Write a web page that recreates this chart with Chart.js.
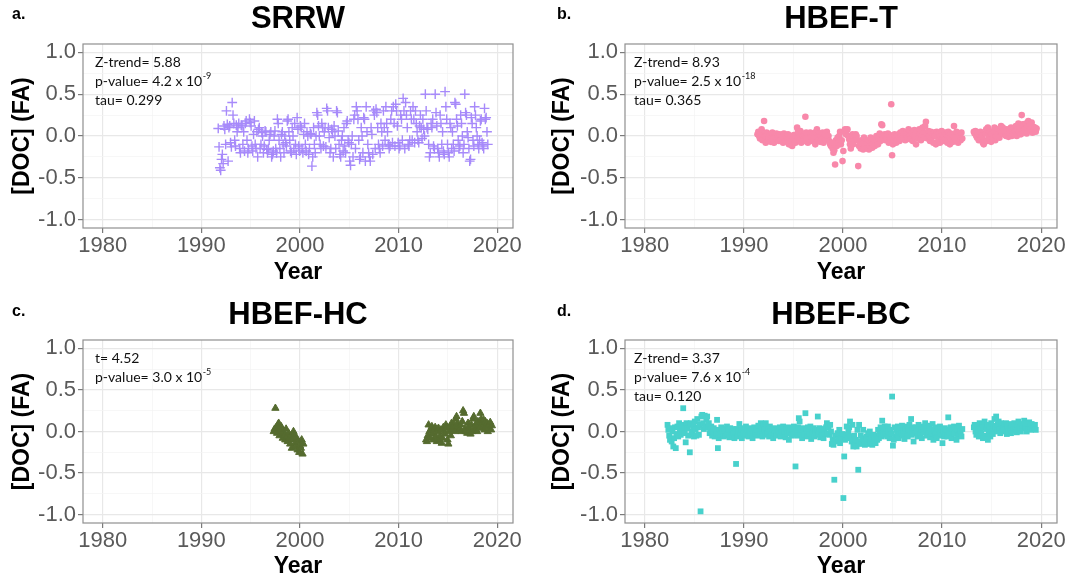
<!DOCTYPE html>
<html>
<head>
<meta charset="utf-8">
<script src="https://cdn.jsdelivr.net/npm/chart.js@4.4.1/dist/chart.umd.min.js"></script>
<style>
    body { margin: 0; background: #fff; }
    #wrap { position: relative; width: 1089px; height: 581px; }
    canvas { position: absolute; }
</style>
</head>
<body>
<div id="wrap">
    <canvas id="srrw" width="545" height="290" style="left:0;top:0"></canvas>
    <canvas id="hbeft" width="544" height="290" style="left:545px;top:0"></canvas>
    <canvas id="hbefhc" width="545" height="291" style="left:0;top:290px"></canvas>
    <canvas id="hbefbc" width="544" height="291" style="left:545px;top:290px"></canvas>
</div>
<script>
// axis ticks (majors get labels, the rest are minor grid lines)
const xTicks = [1980, 1985, 1990, 1995, 2000, 2005, 2010, 2015, 2020];
const xLabels = [1980, 1990, 2000, 2010, 2020];
const yTicks = [-1, -0.75, -0.5, -0.25, 0, 0.25, 0.5, 0.75, 1];
const yLabels = [-1, -0.5, 0, 0.5, 1];

// monthly flow-adjusted DOC values, one row per year
const srrwStart = 1991.67;
const srrwDOC = [
    0.09, -0.13, -0.38, -0.41, -0.28, -0.22, -0.33, 0.12, 0.08, -0.1, 0.3, 0.14,
    -0.3, 0.1, 0.12, -0.08, -0.13, 0.4, 0.25, 0.15, -0.05, -0.12, 0.13, 0.05,
    0.1, 0.15, -0.15, -0.2, 0.13, 0.12, -0.1, 0.05, -0.18, 0.15, 0.18, -0.05,
    -0.2, -0.15, 0.2, 0.16, 0.12, -0.12, -0.18, 0.02, 0.18, -0.1, -0.15, 0.05,
    -0.25, 0.08, 0.1, -0.15, -0.1, 0.04, 0.0, -0.2, -0.12, 0.06, 0.05, -0.16,
    -0.2, -0.15, -0.05, 0.02, 0.05, -0.25, -0.22, -0.18, 0.0, 0.06, -0.15, -0.2,
    0.2, 0.15, -0.05, -0.15, -0.25, 0.02, 0.05, -0.1, -0.2, 0.0, -0.08, -0.12,
    0.18, 0.2, 0.05, -0.05, -0.18, -0.2, 0.1, 0.0, -0.15, 0.15, -0.1, -0.22,
    0.22, 0.08, -0.12, -0.18, 0.12, 0.1, -0.15, -0.2, 0.02, 0.15, -0.1, -0.18,
    0.05, 0.0, -0.22, -0.15, 0.03, 0.02, -0.36, -0.25, 0.1, -0.1, -0.2, 0.0,
    0.28, 0.25, 0.12, 0.0, -0.1, -0.15, 0.15, 0.1, -0.12, 0.05, 0.1, -0.13,
    0.33, 0.3, 0.1, -0.02, -0.2, -0.15, 0.08, 0.05, -0.25, 0.12, 0.0, -0.15,
    0.3, 0.28, 0.06, -0.1, -0.22, -0.25, -0.05, 0.0, -0.18, 0.1, -0.12, -0.2,
    0.15, 0.18, -0.05, -0.08, -0.3, -0.35, -0.1, 0.0, -0.25, 0.2, 0.25, -0.15,
    0.35, 0.3, 0.2, -0.05, -0.28, -0.25, 0.1, 0.0, -0.2, 0.22, 0.2, -0.3,
    0.35, 0.05, -0.1, -0.2, -0.25, -0.3, 0.1, 0.02, -0.22, 0.3, 0.25, -0.15,
    0.32, 0.28, 0.1, -0.1, -0.15, -0.2, 0.15, 0.05, -0.12, 0.3, 0.1, -0.05,
    0.35, 0.15, 0.05, -0.1, -0.15, -0.12, 0.2, 0.3, -0.08, 0.35, 0.15, -0.12,
    0.38, 0.3, 0.12, -0.08, -0.15, -0.12, 0.25, 0.2, -0.05, 0.45, 0.3, -0.15,
    0.4, 0.25, 0.1, -0.1, -0.12, -0.05, 0.3, 0.2, -0.05, 0.35, 0.2, -0.08,
    0.3, 0.15, 0.05, -0.05, -0.08, 0.12, 0.25, 0.1, -0.03, 0.2, 0.08, 0.0,
    0.5, 0.3, 0.1, 0.08, -0.1, -0.25, -0.2, 0.15, 0.1, 0.2, -0.12, -0.15,
    0.5, 0.28, 0.12, -0.15, -0.2, -0.25, 0.25, 0.15, -0.1, 0.05, -0.18, -0.22,
    0.53, 0.35, 0.2, -0.1, -0.2, -0.25, 0.15, 0.1, -0.15, 0.05, -0.1, -0.18,
    0.4, 0.38, 0.2, 0.12, -0.05, -0.15, -0.12, 0.25, 0.15, 0.0, -0.2, -0.1,
    0.5, 0.28, 0.25, 0.05, -0.02, -0.15, -0.3, -0.28, 0.22, 0.15, -0.05, -0.12,
    0.35, 0.25, 0.1, 0.0, -0.1, -0.15, -0.05, 0.18, 0.2, -0.08, -0.12, -0.15,
    0.33, 0.2, 0.22, 0.05, -0.1
];

const hbeftStart = 1991.33;
const hbeftDOC = [
    0.02, 0.05, 0.0, -0.03, 0.03, 0.08, -0.05, 0.01, 0.18, 0.0, -0.08, 0.04,
    0.03, -0.05, -0.02, 0.02, -0.07, 0.0, 0.04, -0.04, -0.08, 0.02, -0.01, 0.03,
    -0.03, 0.0, -0.06, 0.02, -0.04, 0.01, -0.02, -0.08, 0.03, -0.03, -0.05, 0.0,
    -0.02, 0.02, -0.1, -0.04, 0.0, -0.06, -0.12, -0.03, 0.01, -0.05, -0.08, 0.0,
    0.1, 0.05, -0.02, -0.05, 0.06, -0.08, 0.03, 0.0, -0.06, 0.02, 0.23, 0.04,
    -0.03, -0.08, 0.01, -0.05, 0.04, -0.01, -0.06, 0.02, -0.04, 0.0, -0.1, 0.05,
    0.08, -0.02, -0.05, 0.03, -0.07, 0.0, -0.04, 0.04, -0.08, -0.02, 0.02, -0.05,
    0.05, -0.03, 0.0, -0.06, -0.1, -0.12, -0.08, -0.15, -0.2, -0.17, -0.34, -0.05,
    -0.12, -0.02, -0.08, 0.0, 0.05, -0.1, -0.05, -0.3, -0.18, 0.05, 0.08, 0.02,
    0.07, 0.08, 0.0, -0.04, -0.1, -0.15, -0.06, 0.02, -0.1, -0.05, 0.0, 0.02,
    0.0, -0.05, -0.36, -0.12, -0.08, -0.15, -0.05, -0.1, -0.16, -0.02, -0.12, -0.06,
    -0.1, -0.15, -0.05, -0.16, -0.12, -0.02, -0.08, -0.14, -0.1, -0.04, -0.12, -0.06,
    0.0, -0.05, -0.1, -0.02, 0.03, -0.06, 0.14, 0.13, 0.0, -0.03, 0.02, -0.05,
    0.0, -0.04, 0.03, -0.08, 0.01, -0.02, 0.38, -0.23, -0.1, -0.05, 0.02, -0.06,
    -0.08, 0.0, -0.04, 0.02, -0.06, 0.04, 0.0, -0.03, 0.06, -0.02, 0.03, -0.05,
    0.02, 0.05, -0.02, 0.08, 0.0, -0.04, 0.06, 0.03, -0.06, 0.04, 0.07, -0.01,
    -0.1, 0.05, 0.0, -0.03, 0.08, 0.02, -0.05, 0.06, 0.1, 0.03, -0.02, 0.12,
    0.17, 0.04, -0.03, 0.06, 0.0, -0.06, 0.05, -0.02, 0.02, -0.08, 0.04, 0.0,
    -0.1, 0.05, 0.02, -0.05, 0.03, -0.08, 0.0, 0.06, -0.04, 0.01, -0.06, 0.04,
    -0.03, 0.02, -0.08, 0.05, 0.0, -0.1, 0.03, -0.05, 0.01, -0.07, 0.12, 0.02,
    -0.04, 0.05, -0.02, -0.08, 0.03, 0.0, -0.05, 0.04, -0.03, null, null, null,
    null, null, null, null, null, null, null, null, null, null, 0.05, 0.03,
    0.06, 0.0, -0.02, 0.04, -0.05, 0.02, 0.05, -0.03, 0.0, -0.08, -0.1, -0.05,
    0.03, 0.08, -0.06, 0.1, 0.0, -0.04, 0.05, -0.07, 0.02, -0.03, 0.06, 0.1,
    -0.05, 0.0, 0.04, 0.08, 0.03, -0.02, 0.06, 0.12, 0.05, 0.1, 0.02, 0.07,
    0.04, 0.0, 0.08, 0.03, -0.01, 0.06, 0.02, 0.1, 0.0, 0.05, 0.08, 0.03,
    0.06, 0.12, 0.0, 0.08, 0.15, 0.05, 0.1, 0.02, 0.25, 0.14, 0.06, 0.12,
    0.08, 0.15, 0.03, 0.1, 0.18, 0.06, 0.13, 0.09, 0.16, 0.04, 0.11, 0.07,
    0.1, 0.05, 0.09
];

const hbefhcStart1 = 1997.3;
const hbefhcDOC1 = [
    0.0, 0.03, 0.28, 0.05, -0.02, 0.08, 0.1, -0.05, 0.02, 0.06, -0.03, -0.08,
    0.0, -0.05, -0.1, 0.03, -0.06, -0.12, -0.02, -0.08, -0.15, -0.05, -0.2, -0.1,
    0.0, -0.04, -0.14, -0.18, -0.08, -0.22, -0.12, -0.25, -0.17, -0.2, -0.1, -0.27,
    -0.15
];
const hbefhcStart2 = 2012.75;
const hbefhcDOC2 = [
    -0.1, -0.12, -0.05, 0.08, 0.0, -0.08, 0.03, 0.06, -0.03, -0.1, 0.02, 0.05,
    -0.06, -0.12, 0.0, 0.04, -0.1, -0.05, 0.02, -0.14, -0.08, 0.05, 0.0, -0.03,
    0.08, 0.04, -0.1, -0.15, 0.0, 0.06, -0.05, 0.1, 0.02, 0.05, 0.08, 0.0,
    0.15, 0.18, 0.1, 0.05, 0.02, 0.03, 0.08, 0.0, 0.12, 0.25, 0.22, 0.03,
    0.0, 0.02, -0.02, 0.1, 0.05, 0.01, -0.03, 0.08, 0.0, 0.15, 0.18, 0.05,
    0.02, 0.1, 0.0, 0.12, 0.07, 0.04, 0.22, 0.15, 0.1, 0.05, 0.14, 0.02,
    0.12, 0.06, 0.1, 0.0, 0.08, 0.03, 0.11, 0.02, 0.07
];

const hbefbcStart = 1982.25;
const hbefbcDOC = [
    0.08, 0.02, -0.05, -0.1, 0.04, -0.12, 0.0, -0.18, -0.08, 0.05, -0.2, -0.03,
    0.06, -0.06, 0.1, 0.02, -0.04, 0.08, 0.0, 0.28, 0.05, -0.02, -0.13, 0.1,
    0.04, -0.05, 0.08, -0.25, 0.1, -0.03, 0.0, 0.06, -0.06, 0.12, 0.02, -0.05,
    0.15, 0.05, -0.04, 0.08, -0.96, 0.18, 0.2, 0.1, 0.03, 0.19, 0.06, 0.15,
    0.18, 0.05, 0.1, -0.02, 0.03, 0.06, -0.05, 0.0, 0.04, -0.06, 0.02, -0.03,
    0.14, -0.2, -0.08, 0.02, -0.04, 0.05, -0.02, 0.0, -0.06, 0.03, -0.05, 0.01,
    0.06, -0.03, 0.02, -0.07, 0.04, -0.01, -0.05, 0.03, -0.02, -0.08, 0.0, -0.39,
    0.03, -0.06, 0.0, 0.09, -0.03, 0.02, -0.08, 0.04, -0.02, 0.01, -0.05, 0.06,
    -0.03, 0.02, -0.06, 0.04, 0.0, -0.04, 0.03, -0.08, 0.01, 0.05, -0.02, 0.0,
    0.02, -0.05, 0.07, 0.0, -0.03, 0.1, 0.04, -0.06, 0.08, 0.02, -0.04, 0.1,
    0.05, -0.02, 0.03, -0.06, 0.06, 0.0, -0.04, 0.02, -0.08, 0.04, -0.02, 0.01,
    -0.05, 0.03, 0.0, -0.03, 0.05, -0.06, 0.02, -0.01, 0.06, -0.04, 0.0, -0.07,
    0.03, -0.02, 0.05, -0.1, 0.0, 0.04, -0.05, 0.02, -0.03, 0.06, -0.04, -0.42,
    0.0, -0.05, 0.05, 0.16, 0.12, -0.03, 0.02, -0.08, 0.04, 0.0, -0.04, 0.22,
    0.03, -0.06, 0.05, 0.0, -0.03, 0.06, -0.09, 0.02, -0.02, 0.04, -0.06, 0.01,
    -0.04, 0.02, 0.18, -0.02, 0.04, -0.07, 0.0, -0.05, 0.03, -0.08, 0.02, -0.03,
    0.05, 0.1, -0.02, 0.06, -0.04, 0.08, 0.0, -0.15, -0.1, -0.16, -0.58, -0.05,
    -0.12, -0.05, -0.02, -0.1, 0.02, -0.14, -0.06, -0.08, -0.03, -0.8, -0.3, -0.1,
    -0.04, 0.06, -0.08, 0.0, 0.05, 0.12, -0.06, -0.12, 0.08, -0.18, -0.05, -0.14,
    -0.1, -0.18, 0.02, -0.46, 0.08, -0.12, -0.05, -0.15, -0.08, 0.02, -0.1, -0.16,
    -0.12, -0.06, -0.15, -0.02, -0.1, 0.0, -0.13, -0.08, -0.16, -0.04, -0.11, -0.07,
    -0.14, -0.05, -0.1, 0.02, -0.08, -0.03, 0.05, -0.06, 0.13, 0.0, -0.04, 0.06,
    -0.02, 0.04, -0.06, 0.06, 0.0, -0.08, 0.02, -0.03, 0.42, -0.17, -0.1, 0.05,
    -0.06, 0.02, -0.04, 0.06, -0.08, 0.0, 0.04, -0.02, 0.07, -0.05, 0.01, -0.09,
    0.03, -0.03, 0.06, -0.06, 0.02, 0.08, 0.0, 0.15, -0.04, 0.05, -0.12, 0.02,
    -0.02, 0.05, 0.0, -0.06, 0.08, 0.03, -0.04, 0.02, -0.08, 0.06, -0.01, 0.04,
    0.1, 0.0, -0.05, 0.04, -0.02, 0.07, -0.07, 0.02, -0.03, 0.09, -0.1, 0.01,
    -0.04, 0.05, -0.08, 0.0, 0.03, -0.05, 0.06, -0.02, 0.02, -0.14, 0.0, -0.06,
    0.04, -0.03, 0.02, -0.06, 0.17, 0.0, -0.04, 0.05, -0.08, 0.01, -0.03, 0.06,
    -0.02, 0.04, -0.1, 0.02, -0.05, 0.07, -0.03, 0.0, -0.06, 0.03, null, null,
    null, null, null, null, null, null, null, null, null, null, null, 0.05,
    0.08, 0.0, -0.04, 0.06, 0.02, -0.06, 0.1, 0.04, -0.02, 0.08, -0.08, 0.05,
    0.12, -0.05, 0.03, 0.08, -0.1, 0.0, 0.06, -0.06, 0.1, 0.02, -0.03, 0.07,
    0.15, 0.05, 0.18, 0.0, 0.08, 0.12, 0.03, -0.02, 0.1, 0.06, 0.0, 0.04,
    0.08, 0.02, 0.1, -0.03, 0.06, 0.0, 0.09, 0.04, -0.02, 0.07, 0.01, 0.05,
    0.1, 0.03, 0.06, -0.01, 0.08, 0.12, 0.02, 0.05, 0.0, 0.09, 0.04, 0.07,
    0.13, 0.05, 0.1, 0.0, 0.08, 0.03, 0.11, 0.06, 0.02, 0.09, 0.04, 0.07,
    0.05, 0.08, 0.02
];

const FONT = "'Liberation Sans', Arial, sans-serif";
const NOTE_FONT = "Lato, 'Open Sans', sans-serif";

// monthly series -> scatter points, skipping the gaps
function toPoints(start, values) {
    const pts = [];
    values.forEach((v, i) => {
        if (v !== null) pts.push({ x: start + i / 12 + 1 / 24, y: v });
    });
    return pts;
}

function isLabel(list, v) {
    return list.some((t) => Math.abs(t - v) < 1e-9);
}

// panel border, title, panel letter and the trend statistics
const panelText = {
    id: "panelText",
    afterDraw(chart, args, opts) {
        const { ctx, chartArea: a } = chart;
        ctx.save();
        ctx.strokeStyle = "#8f8f8f";
        ctx.lineWidth = 1.2;
        ctx.strokeRect(a.left, a.top, a.width, a.height);

        ctx.fillStyle = "#000";
        ctx.textBaseline = "middle";
        ctx.textAlign = "center";
        ctx.font = "bold 31px " + FONT;
        ctx.fillText(opts.title, (a.left + a.right) / 2, opts.titleY);

        ctx.textAlign = "left";
        ctx.font = "bold 16px " + FONT;
        ctx.fillText(opts.letter, 12, opts.letterY);

        ctx.fillStyle = "#111";
        opts.notes.forEach((n, i) => {
            const x = a.left + opts.noteX;
            const y = a.top + 18 + i * 19;
            ctx.font = "14px " + NOTE_FONT;
            ctx.fillText(n[0], x, y);
            if (n[1]) {
                const w = ctx.measureText(n[0]).width;
                ctx.font = "9px " + NOTE_FONT;
                ctx.fillText(n[1], x + w + 0.5, y - 5);
            }
        });
        ctx.restore();
    },
};

function makePanel(id, cfg) {
    const ctx = document.getElementById(id).getContext("2d");
    return new Chart(ctx, {
        type: "scatter",
        data: {
            datasets: cfg.series.map((pts) => ({
                data: pts,
                pointStyle: cfg.style,
                pointRadius: cfg.radius,
                pointHoverRadius: cfg.radius,
                backgroundColor: cfg.color,
                borderColor: cfg.color,
                borderWidth: cfg.border,
            })),
        },
        plugins: [panelText],
        options: {
            responsive: false,
            animation: false,
            layout: {
                padding: { top: cfg.top, right: 32, bottom: cfg.bottom, left: 0 },
            },
            scales: {
                x: {
                    type: "linear",
                    min: 1978,
                    max: 2021.6,
                    afterBuildTicks: (s) => {
                        s.ticks = xTicks.map((v) => ({ value: v }));
                    },
                    afterFit: (s) => {
                        s.height = cfg.xHeight;
                    },
                    border: { display: false },
                    grid: {
                        color: (c) => (isLabel(xLabels, c.tick.value) ? "#e8e8e8" : "#f3f3f3"),
                        lineWidth: (c) => (isLabel(xLabels, c.tick.value) ? 1.2 : 0.7),
                        tickColor: (c) => (isLabel(xLabels, c.tick.value) ? "#7a7a7a" : "rgba(0,0,0,0)"),
                        tickLength: 5,
                    },
                    ticks: {
                        autoSkip: false,
                        maxRotation: 0,
                        padding: 0,
                        color: "#5a5a5a",
                        font: { size: 22, family: FONT },
                        callback: (v) => (isLabel(xLabels, v) ? String(v) : ""),
                    },
                    title: {
                        display: true,
                        text: "Year",
                        color: "#000",
                        padding: { top: 0, bottom: 0 },
                        font: { size: 23, weight: "bold", family: FONT },
                    },
                },
                y: {
                    min: -1.1,
                    max: 1.1,
                    afterBuildTicks: (s) => {
                        s.ticks = yTicks.map((v) => ({ value: v }));
                    },
                    afterFit: (s) => {
                        s.width = cfg.yWidth;
                    },
                    border: { display: false },
                    grid: {
                        color: (c) => (isLabel(yLabels, c.tick.value) ? "#e8e8e8" : "#f3f3f3"),
                        lineWidth: (c) => (isLabel(yLabels, c.tick.value) ? 1.2 : 0.7),
                        tickColor: (c) => (isLabel(yLabels, c.tick.value) ? "#7a7a7a" : "rgba(0,0,0,0)"),
                        tickLength: 5,
                    },
                    ticks: {
                        autoSkip: false,
                        padding: 2,
                        color: "#5a5a5a",
                        font: { size: 22, family: FONT },
                        callback: (v) => (isLabel(yLabels, v) ? v.toFixed(1) : ""),
                    },
                    title: {
                        display: true,
                        text: "[DOC] (FA)",
                        color: "#000",
                        padding: { top: cfg.yTitlePad, bottom: 0 },
                        font: { size: 23, weight: "bold", family: FONT },
                    },
                },
            },
            plugins: {
                legend: { display: false },
                tooltip: { enabled: false },
                panelText: {
                    title: cfg.title,
                    titleY: cfg.titleY,
                    letter: cfg.letter,
                    letterY: cfg.letterY,
                    noteX: cfg.noteX,
                    notes: cfg.notes,
                },
            },
        },
    });
}

makePanel("srrw", {
    title: "SRRW", letter: "a.", titleY: 19, letterY: 15,
    series: [toPoints(srrwStart, srrwDOC)],
    style: "cross", radius: 4.9, border: 1.4, color: "#a78afa",
    top: 44, bottom: 4, xHeight: 58, yWidth: 83, yTitlePad: 9, noteX: 12,
    notes: [["Z-trend= 5.88"], ["p-value= 4.2 x 10", "-9"], ["tau= 0.299"]],
});

makePanel("hbeft", {
    title: "HBEF-T", letter: "b.", titleY: 19, letterY: 15,
    series: [toPoints(hbeftStart, hbeftDOC)],
    style: "circle", radius: 3.3, border: 0, color: "#f888aa",
    top: 44, bottom: 4, xHeight: 58, yWidth: 80, yTitlePad: 4, noteX: 9,
    notes: [["Z-trend= 8.93"], ["p-value= 2.5 x 10", "-18"], ["tau= 0.365"]],
});

makePanel("hbefhc", {
    title: "HBEF-HC", letter: "c.", titleY: 25, letterY: 22,
    series: [toPoints(hbefhcStart1, hbefhcDOC1), toPoints(hbefhcStart2, hbefhcDOC2)],
    style: "triangle", radius: 4.2, border: 1, color: "#556b2f",
    top: 50, bottom: 0.5, xHeight: 57.5, yWidth: 83, yTitlePad: 9, noteX: 12,
    notes: [["t= 4.52"], ["p-value= 3.0 x 10", "-5"]],
});

makePanel("hbefbc", {
    title: "HBEF-BC", letter: "d.", titleY: 25, letterY: 22,
    series: [toPoints(hbefbcStart, hbefbcDOC)],
    style: "rect", radius: 4.1, border: 0, color: "#48d1cc",
    top: 50, bottom: 0.5, xHeight: 57.5, yWidth: 80, yTitlePad: 4, noteX: 9,
    notes: [["Z-trend= 3.37"], ["p-value= 7.6 x 10", "-4"], ["tau= 0.120"]],
});
</script>
</body>
</html>
